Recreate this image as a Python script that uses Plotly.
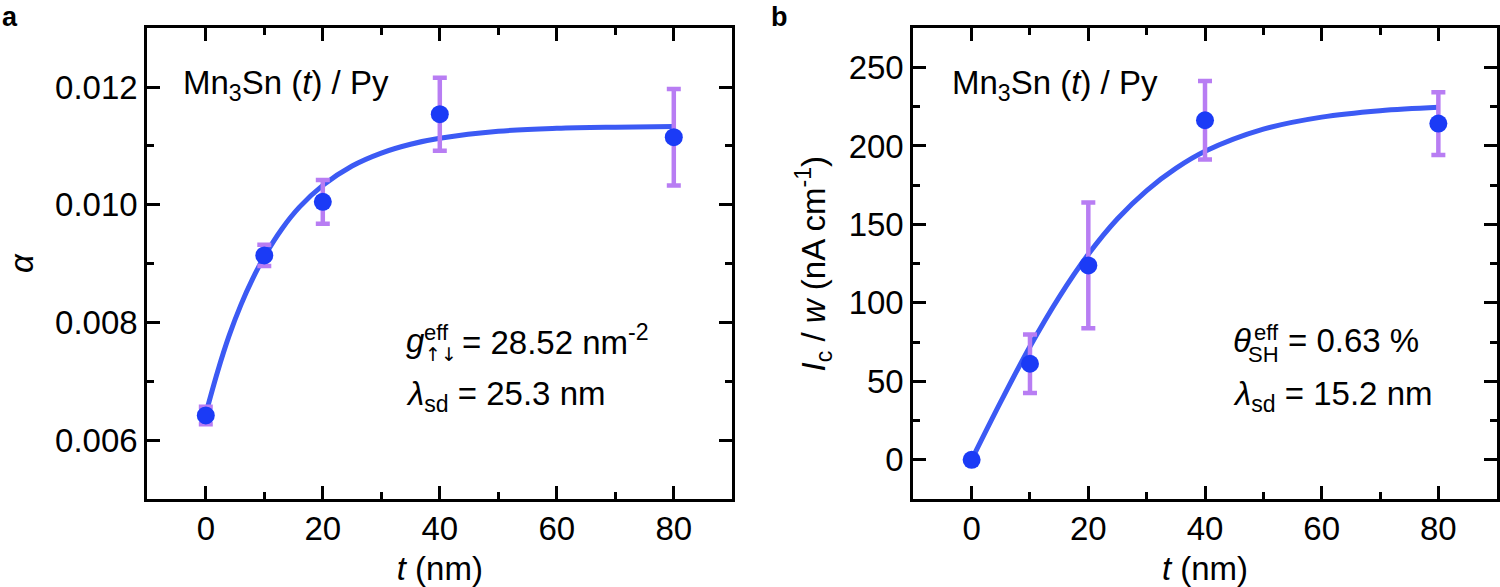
import plotly.graph_objects as go

# ---------------- data ----------------
t_a = [0, 10, 20, 40, 80]
alpha = [0.00642, 0.00914, 0.01005, 0.01154, 0.01115]
alpha_err = [0.00015, 0.00018, 0.00037, 0.00062, 0.00082]
fit_t_a = [0, 2, 4, 6, 8, 10, 13, 16, 20, 25, 30, 35, 40, 50, 60, 70, 80]
fit_alpha = [0.00645, 0.00716, 0.00778, 0.00830, 0.00874, 0.00912, 0.00959, 0.00996,
             0.01033, 0.01066, 0.01088, 0.01103, 0.01113, 0.01125, 0.01130, 0.01132, 0.01133]

t_b = [0, 10, 20, 40, 80]
ic_w = [0, 61.2, 123.9, 216.4, 214.3]
ic_err = [0, 18.7, 40, 25, 20]
fit_t_b = [0, 5, 10, 15, 20, 25, 30, 35, 40, 50, 60, 70, 80]
fit_ic = [0, 37.0, 72.2, 103.7, 131.0, 153.6, 171.6, 185.7, 196.6, 210.7, 218.4, 222.5, 224.7]

W, H = 1500, 587
FONT = "Liberation Sans, Arial, sans-serif"
MARKER = "#1B3BF6"
LINE = "#3C5AF4"
ERR = "#B87DF3"


def px_x(x):
    return x / W


def px_y(y):
    return 1 - y / H


fig = go.Figure()

# fit lines
fig.add_trace(go.Scatter(x=fit_t_a, y=fit_alpha, mode="lines", line=dict(color=LINE, width=5, shape="spline"),
                         xaxis="x", yaxis="y", showlegend=False))
fig.add_trace(go.Scatter(x=fit_t_b, y=fit_ic, mode="lines", line=dict(color=LINE, width=5, shape="spline"),
                         xaxis="x2", yaxis="y2", showlegend=False))
# data
fig.add_trace(go.Scatter(x=t_a, y=alpha, mode="markers",
                         marker=dict(color=MARKER, size=18),
                         error_y=dict(type="data", array=alpha_err, color=ERR, thickness=4.5, width=7),
                         xaxis="x", yaxis="y", showlegend=False))
fig.add_trace(go.Scatter(x=t_b, y=ic_w, mode="markers",
                         marker=dict(color=MARKER, size=18),
                         error_y=dict(type="data", array=ic_err, color=ERR, thickness=4.5, width=7),
                         xaxis="x2", yaxis="y2", showlegend=False))

TS = 33
ax = dict(showline=True, linewidth=3, linecolor="black", mirror="ticks", ticks="inside", ticklen=13,
          tickwidth=3, tickcolor="black", showgrid=False, zeroline=False,
          tickfont=dict(size=TS, color="black", family=FONT),
          minor=dict(ticks="inside", ticklen=7, tickwidth=3, tickcolor="black", showgrid=False))

yd = [px_y(499), px_y(28.3)]
fig.update_layout(
    width=W, height=H, margin=dict(l=0, r=0, t=0, b=0),
    paper_bgcolor="white", plot_bgcolor="white",
    font=dict(family=FONT, color="black", size=TS),
    xaxis=dict(ax, domain=[px_x(147.3), px_x(732.3)], range=[-10, 90], dtick=20, tick0=0,
               minor=dict(ax["minor"], dtick=10), ticklabelstandoff=-2,
               title=dict(text="<i>t</i> (nm)", font=dict(size=TS), standoff=12)),
    yaxis=dict(ax, domain=yd, range=[0.005, 0.013], dtick=0.002, tick0=0, tickformat=".3f",
               minor=dict(ax["minor"], dtick=0.001), ticklabelstandoff=0,
               title=dict(text="<i>α</i>", font=dict(size=TS), standoff=12)),
    xaxis2=dict(ax, domain=[px_x(913.3), px_x(1496.7)], range=[-10, 90], dtick=20, tick0=0,
                minor=dict(ax["minor"], dtick=10), ticklabelstandoff=-2,
                title=dict(text="<i>t</i> (nm)", font=dict(size=TS), standoff=12), anchor="y2"),
    yaxis2=dict(ax, domain=yd, range=[-25, 275], dtick=50, tick0=0,
                minor=dict(ax["minor"], dtick=25), ticklabelstandoff=0,
                title=dict(text="<i>I</i><sub>c</sub> / <i>w</i> (nA cm<sup>-1</sup>)", font=dict(size=TS), standoff=14),
                anchor="x2"),
)


def ann(xpx, ypx, text, size=TS, xanchor="left", yanchor="middle", bold=False, family=FONT):
    if bold:
        text = "<b>" + text + "</b>"
    fig.add_annotation(x=px_x(xpx), y=px_y(ypx), xref="paper", yref="paper", text=text, showarrow=False,
                       xanchor=xanchor, yanchor=yanchor, font=dict(size=size, color="black", family=family))


# panel letters
ann(0, 0, "a", size=27, yanchor="top", bold=True)
ann(769, 0, "b", size=27, yanchor="top", bold=True)

# panel a texts
ann(181, 85, "Mn<sub>3</sub>Sn (<i>t</i>) / Py")
ann(404, 340, "<i>g</i>")
ann(422, 332, "eff", size=22)
ann(423, 354, "↑↓", size=19, family="DejaVu Sans, sans-serif")
ann(460, 340, "= 28.52 nm<sup>-2</sup>")
ann(404, 396, "<i>λ</i><sub>sd</sub> = 25.3 nm")

# panel b texts
ann(950, 85, "Mn<sub>3</sub>Sn (<i>t</i>) / Py")
ann(1231, 340, "<i>θ</i>")
ann(1252, 332, "eff", size=22)
ann(1246, 354, "SH", size=22)
ann(1286, 340, "= 0.63 %")
ann(1231, 396, "<i>λ</i><sub>sd</sub> = 15.2 nm")

fig.write_html("out.html", config={"displayModeBar": False},
               post_script="document.body.style.margin='0px';")
